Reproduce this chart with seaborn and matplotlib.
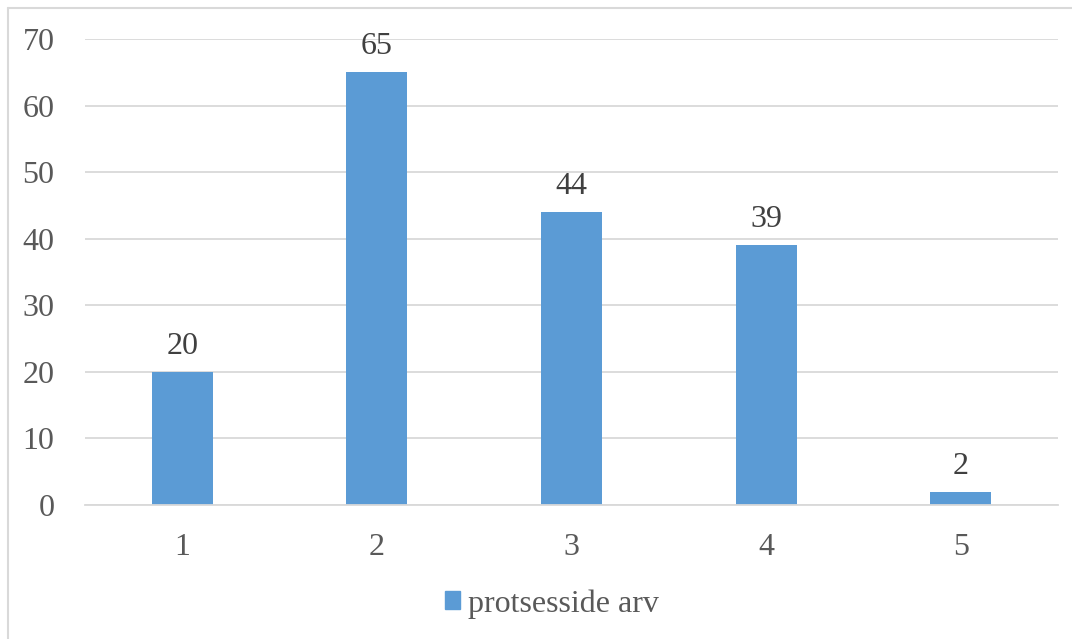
import matplotlib
matplotlib.use("Agg")
import matplotlib.pyplot as plt
import seaborn as sns
import pandas as pd
from matplotlib.lines import Line2D
from matplotlib.patches import Patch
from matplotlib import font_manager

categories = ["1", "2", "3", "4", "5"]
values = [20, 65, 44, 39, 2]
series_name = "protsesside arv"
yticks = [0, 10, 20, 30, 40, 50, 60, 70]

sns.set_theme(style="white")
serif_names = [f.name for f in font_manager.fontManager.ttflist if "Serif" in f.name and "Liberation" in f.name]
fam = serif_names[0] if serif_names else "DejaVu Serif"
plt.rcParams['font.family'] = [fam, 'DejaVu Serif']

BAR = "#5B9BD5"
GRID = "#D9D9D9"
TXT = "#595959"

df = pd.DataFrame({"cat": categories, "val": values})

fig = plt.figure(figsize=(10.72, 6.39), dpi=100)
ax = fig.add_axes([85/1072, 1 - 505/639, (1058-85)/1072, (505-39)/639])
sns.barplot(data=df, x="cat", y="val", color=BAR, width=0.313, ax=ax, saturation=1,
            edgecolor=BAR, linewidth=0)

ax.set_ylim(0, 70)
ax.set_xlim(-0.5, len(categories) - 0.5)
ax.set_yticks(yticks)
ax.set_yticklabels([str(t) for t in yticks])
ax.yaxis.grid(True, color=GRID, linewidth=1.3)
ax.set_axisbelow(True)
for s in ["top", "right", "left"]:
    ax.spines[s].set_visible(False)
ax.spines["bottom"].set_color(GRID)
ax.spines["bottom"].set_linewidth(1.3)
ax.tick_params(axis="both", length=0, labelsize=23, labelcolor=TXT)
ax.tick_params(axis="y", pad=22)
ax.tick_params(axis="x", pad=20)
ax.set_xlabel("")
ax.set_ylabel("")

for cont in ax.containers:
    ax.bar_label(cont, labels=[str(v) for v in values], padding=8, fontsize=23, color="#404040")

handle = Patch(facecolor=BAR, edgecolor=BAR)
fig.legend([handle], [series_name], loc="center", bbox_to_anchor=(552/1072, 1 - 604/639),
           frameon=False, fontsize=23, labelcolor=TXT, handlelength=0.48, handleheight=0.48,
           handletextpad=0.25)

fig.add_artist(Line2D([7.5/1072, 1], [1 - 8/639, 1 - 8/639], transform=fig.transFigure,
                      color=GRID, linewidth=1.5))
fig.add_artist(Line2D([7.5/1072, 7.5/1072], [0, 1 - 8/639], transform=fig.transFigure,
                      color=GRID, linewidth=1.5))

fig.savefig("out.png", dpi=100, facecolor="white")
